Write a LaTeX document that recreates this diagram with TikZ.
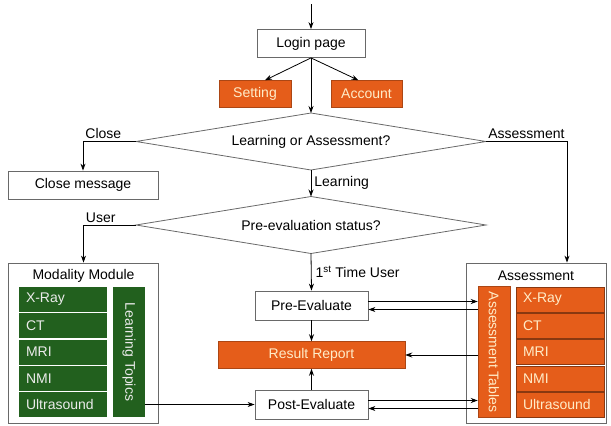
\documentclass[tikz,border=0pt]{standalone}
\usepackage{fontspec}
\setmainfont{Liberation Sans}
\usepackage{graphicx}
\usetikzlibrary{shapes.geometric,arrows.meta,positioning,calc}
\usepackage{xcolor}
\definecolor{reportorange}{RGB}{229,93,26}
\definecolor{modulegreen}{RGB}{34,96,30}
\definecolor{framegray}{RGB}{105,105,105}
\definecolor{palecream}{RGB}{255,236,200}

\tikzset{
  flowbox/.style={draw=framegray, fill=white, line width=0.8pt, minimum height=28pt, inner sep=2pt},
  orangebox/.style={fill=reportorange, draw=reportorange!75!black, line width=0.5pt, text=palecream, minimum height=27pt, inner sep=2pt},
  greenbox/.style={fill=modulegreen, text=white!92!black, minimum width=88pt, minimum height=25pt, text width=74pt, inner xsep=7pt, inner ysep=0pt, align=left},
  assessbox/.style={fill=reportorange, draw=reportorange!60!black, line width=0.5pt, text=palecream, minimum width=88pt, minimum height=25pt, text width=74pt, inner xsep=7pt, inner ysep=0pt, align=left},
  decision/.style={diamond, draw=framegray, line width=0.8pt, inner sep=0pt, outer sep=0pt, aspect=6, minimum width=350pt, minimum height=57pt},
  panel/.style={draw=framegray, line width=0.8pt, inner sep=0pt},
  arr/.style={-{Stealth[length=7pt,width=5pt]}, line width=0.8pt}
}

\begin{document}
\begin{tikzpicture}[x=1pt, y=-1pt, font=\fontsize{14}{16}\selectfont]
    \useasboundingbox (0,0) rectangle (611,426);

    % Entry and login
    \coordinate (start) at (311,4);
    \node[flowbox, minimum width=108pt] (login) at (311,43.5) {Login page};
    \node[orangebox, minimum width=72pt] (setting) at (255,94) {Setting};
    \node[orangebox, minimum width=71pt] (account) at (366.5,94) {Account};

    % Decisions
    \node[decision] (choice) at (311,141.5) {Learning or Assessment?};
    \node[flowbox, minimum width=150pt] (closemsg) at (83,185) {Close message};
    \node[decision] (status) at (311,225) {Pre-evaluation status?};

    % Modality module panel
    \node[panel, minimum width=150pt, minimum height=160pt] (modality) at (83.5,343) {};
    \node (modtitle) at (83.5,276) {Modality Module};
    \foreach \modname [count=\k] in {X-Ray,CT,MRI,NMI,Ultrasound} {
        \node[greenbox] (learn\k) at (63,273.25+26.25*\k) {\modname};
    }
    \node[fill=modulegreen, text=white!92!black, minimum width=32pt, minimum height=130pt, inner sep=0pt] (topics) at (129,352) {\rotatebox{-90}{Learning Topics}};

    % Assessment panel
    \node[panel, minimum width=140pt, minimum height=160pt] (assess) at (536,343) {};
    \node (asstitle) at (536,276) {Assessment};
    \node[orangebox, minimum width=32pt, minimum height=131pt, inner sep=0pt] (tables) at (494,352) {\rotatebox{-90}{Assessment Tables}};
    \foreach \modname [count=\k] in {X-Ray,CT,MRI,NMI,Ultrasound} {
        \node[assessbox] (exam\k) at (560,273.25+26.25*\k) {\modname};
    }

    % Evaluation column
    \node[flowbox, minimum width=113pt, minimum height=29pt] (pre) at (311.5,305.5) {Pre-Evaluate};
    \node[orangebox, minimum width=187pt] (report) at (311.5,355) {Result Report};
    \node[flowbox, minimum width=113pt, minimum height=29pt] (post) at (311.5,404.5) {Post-Evaluate};

    % Connectors
    \draw[arr] (start) -- (login);
    \draw[arr] (login.south) -- ([xshift=10pt]setting.north);
    \draw[arr] (login.south) -- ([xshift=-8pt]account.north);
    \draw[arr] (login.south) -- (choice.north);
    \draw[arr] (choice.west) -| node[pos=0.5, above right, inner sep=2pt] {Close} (closemsg.north);
    \draw[arr] (choice.east) -| node[pos=0.5, above left, inner sep=2pt] {Assessment} ([xshift=31pt]assess.north);
    \draw[arr] (choice.south) -- node[right, inner sep=3pt] {Learning} (status.north);
    \draw[arr] (status.west) -| node[pos=0.5, above right, inner sep=2pt] {User} (modality.north);
    \draw[arr] (status.south) -- node[right, inner sep=4pt] {1\textsuperscript{st} Time User} (pre.north);
    \draw[arr] (pre) -- (report);
    \draw[arr] (post) -- (report);
    \draw[arr] ([yshift=4pt]pre.east) -- ([yshift=4pt]pre.east -| tables.west);
    \draw[arr] ([yshift=-4pt]pre.east -| tables.west) -- ([yshift=-4pt]pre.east);
    \draw[arr] (tables.west |- report.east) -- (report.east);
    \draw[arr] ([yshift=4pt]post.east) -- ([yshift=4pt]post.east -| tables.west);
    \draw[arr] ([yshift=-4pt]post.east -| tables.west) -- ([yshift=-4pt]post.east);
    \draw[arr] (topics.east |- post.west) -- (post.west);
\end{tikzpicture}
\end{document}
